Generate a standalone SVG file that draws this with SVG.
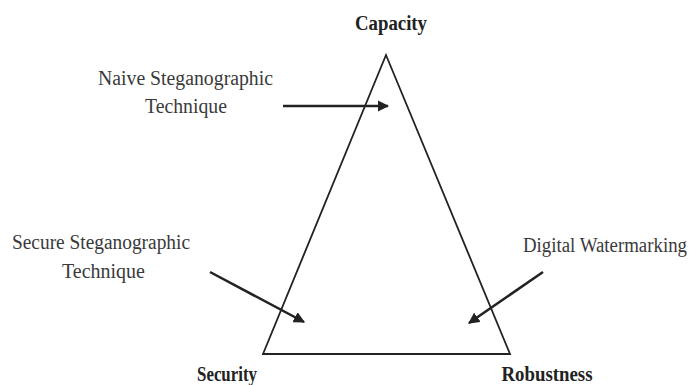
<svg xmlns="http://www.w3.org/2000/svg" width="697" height="385" viewBox="0 0 697 385">
<style>
.t{font-family:"Liberation Serif","Times New Roman",serif;font-size:20px;fill:#3a3a3a}
.b{font-family:"Liberation Serif","Times New Roman",serif;font-size:20px;font-weight:bold;fill:#222}
.a{stroke:#222;stroke-width:2.5;fill:none;marker-end:url(#ah)}
</style>
<defs>
<marker id="ah" viewBox="0 0 10 10" refX="9" refY="5" markerWidth="4.5" markerHeight="4.5" orient="auto" markerUnits="strokeWidth">
<path d="M0,0 L10,5 L0,10 z" fill="#222"/>
</marker>
</defs>
<rect width="697" height="385" fill="#fff"/>
<g id="triangle">
<polygon points="386,55 263,354 510,354" fill="none" stroke="#222" stroke-width="1.8"/>
</g>
<g id="capacity"><text class="b" x="391" y="30" text-anchor="middle" textLength="72" lengthAdjust="spacingAndGlyphs">Capacity</text></g>
<g id="security"><text class="b" x="227" y="381" text-anchor="middle" textLength="60" lengthAdjust="spacingAndGlyphs">Security</text></g>
<g id="robustness"><text class="b" x="547" y="381" text-anchor="middle" textLength="91" lengthAdjust="spacingAndGlyphs">Robustness</text></g>
<g id="naive">
<text class="t" x="185.5" y="85" text-anchor="middle" textLength="175" lengthAdjust="spacingAndGlyphs">Naive Steganographic</text>
<text class="t" x="186" y="113" text-anchor="middle" textLength="82" lengthAdjust="spacingAndGlyphs">Technique</text>
</g>
<g id="secure">
<text class="t" x="101" y="249" text-anchor="middle" textLength="178" lengthAdjust="spacingAndGlyphs">Secure Steganographic</text>
<text class="t" x="103.5" y="278" text-anchor="middle" textLength="83" lengthAdjust="spacingAndGlyphs">Technique</text>
</g>
<g id="watermarking">
<text class="t" x="523" y="252" textLength="164" lengthAdjust="spacingAndGlyphs">Digital Watermarking</text>
</g>
<g id="connectors">
<line class="a" x1="283" y1="106" x2="388" y2="106"/>
<line class="a" x1="210" y1="272" x2="304" y2="322"/>
<line class="a" x1="543" y1="272" x2="469" y2="323"/>
</g>
</svg>
